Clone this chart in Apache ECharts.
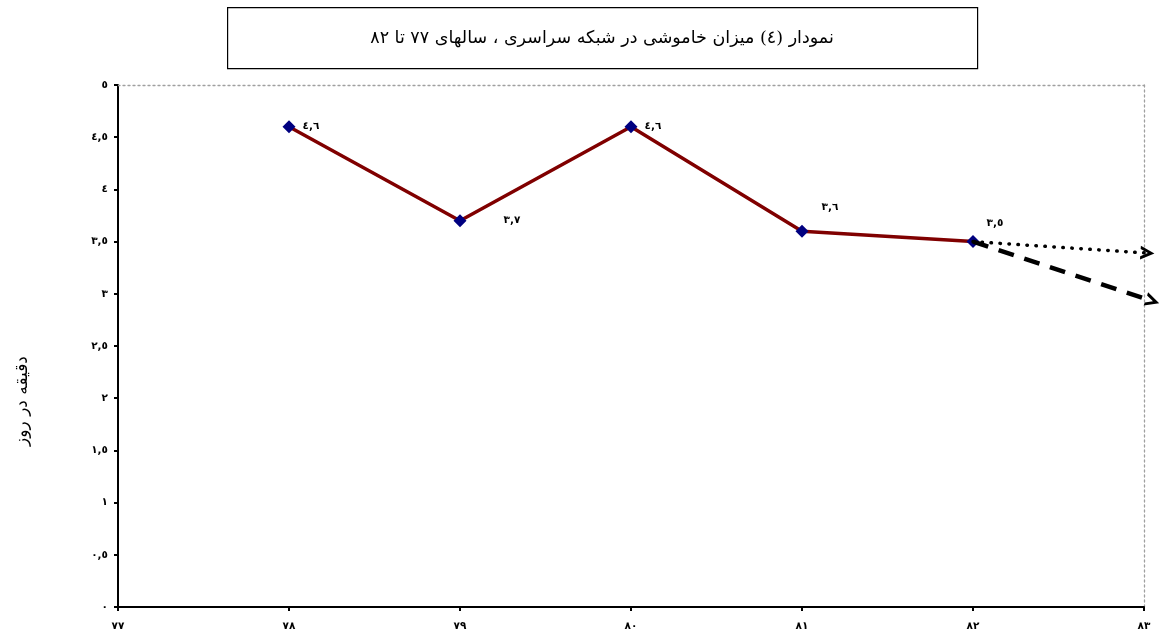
<!DOCTYPE html>
<html>
<head>
<meta charset="utf-8">
<script src="https://cdn.jsdelivr.net/npm/echarts@6/dist/echarts.min.js"></script>
<style>
  html, body { margin: 0; padding: 0; background: #fff; }
  #chart { width: 1160px; height: 639px; }
</style>
</head>
<body>
<div id="chart"></div>
<script>
// Years (Persian calendar) and outage minutes per day
const years = [78, 79, 80, 81, 82];
const minutesPerDay = [4.6, 3.7, 4.6, 3.6, 3.5];
// Label placement per point: [dx, dy] offsets from the marker
const labelOffsets = [[22, 0], [52, 0], [22, 0], [28, -24], [22, -18]];
// Two projected trends after the last year: [start, end]
const trendDotted = [[82, 3.5], [83.02, 3.39]];
const trendDashed = [[82, 3.5], [83.05, 2.93]];

const titleText = 'نمودار (٤) میزان خاموشی در شبکه سراسری ، سالهای ٧٧ تا ٨٢';
const yAxisTitle = 'دقیقه در روز';

const arabicDigits = ['٠','١','٢','٣','٤','٥','٦','٧','٨','٩'];
function toArabic(v) {
  const s = String(Math.round(v * 10) / 10).replace('.', ',');
  return s.replace(/[0-9]/g, d => arabicDigits[+d]);
}

const labelFont = { fontFamily: 'DejaVu Sans', fontWeight: 'bold', fontSize: 10.5, color: '#000' };

const chart = echarts.init(document.getElementById('chart'), null, { renderer: 'canvas' });

// open arrow head, drawn pointing up and rotated along the line
const chevron = 'path://M0,14 L8.5,0 L17,14 L13,14 L8.5,6.5 L4,14 Z';

chart.setOption({
  animation: false,
  backgroundColor: '#fff',
  grid: { left: 118, right: 16, top: 85, bottom: 32, containLabel: false },
  xAxis: [{
    type: 'value', min: 77, max: 83, interval: 1, position: 'bottom',
    axisLine: { show: true, onZero: false, lineStyle: { color: '#000', width: 2 } },
    axisTick: { show: true, length: 4, lineStyle: { color: '#000', width: 2 } },
    axisLabel: Object.assign({ margin: 14, formatter: v => toArabic(v) }, labelFont),
    splitLine: { show: false }
  }, {
    type: 'value', min: 77, max: 83, position: 'top',
    axisLine: { show: true, onZero: false, lineStyle: { color: '#a0a0a0', width: 1.3, type: [2, 3] } },
    axisTick: { show: false }, axisLabel: { show: false }, splitLine: { show: false }
  }],
  yAxis: [{
    type: 'value', min: 0, max: 5, interval: 0.5, position: 'left',
    axisLine: { show: true, onZero: false, lineStyle: { color: '#000', width: 2 } },
    axisTick: { show: true, length: 4, lineStyle: { color: '#000', width: 2 } },
    axisLabel: Object.assign({ margin: 10, formatter: v => toArabic(v) }, labelFont),
    splitLine: { show: false }
  }, {
    type: 'value', min: 0, max: 5, position: 'right',
    axisLine: { show: true, onZero: false, lineStyle: { color: '#a0a0a0', width: 1.3, type: [2, 3] } },
    axisTick: { show: false }, axisLabel: { show: false }, splitLine: { show: false }
  }],
  graphic: [
    {
      type: 'rect', left: 227, top: 7, z: 10,
      shape: { width: 750, height: 61 },
      style: { fill: '#fff', stroke: '#000', lineWidth: 1.2 }
    },
    {
      type: 'text', x: 602, y: 38, z: 11,
      style: { text: titleText, fontFamily: 'DejaVu Serif, DejaVu Sans', fontSize: 17.5, fill: '#000', align: 'center', verticalAlign: 'middle' }
    },
    {
      type: 'text', x: 23, y: 401, z: 11, rotation: Math.PI / 2,
      style: { text: yAxisTitle, fontFamily: 'DejaVu Sans', fontSize: 17, fill: '#000', align: 'center', verticalAlign: 'middle' }
    }
  ],
  series: [
    {
      type: 'line',
      data: years.map((y, i) => ({
        value: [y, minutesPerDay[i]],
        label: { offset: labelOffsets[i] }
      })),
      lineStyle: { color: '#800000', width: 3.5 },
      itemStyle: { color: '#000080' },
      symbol: 'diamond', symbolSize: 13,
      label: Object.assign({ show: true, position: 'inside', formatter: p => toArabic(p.value[1]) }, labelFont),
      z: 3
    },
    {
      type: 'lines', coordinateSystem: 'cartesian2d', clip: false, silent: true,
      symbol: ['none', chevron], symbolSize: [17, 14],
      data: [
        { coords: trendDotted, lineStyle: { color: '#000', width: 3.5, type: [0.5, 8.5], cap: 'round', opacity: 1 } },
        { coords: trendDashed, lineStyle: { color: '#000', width: 4.5, type: [16, 11], opacity: 1 } }
      ],
      z: 4
    }
  ]
});
</script>
</body>
</html>
